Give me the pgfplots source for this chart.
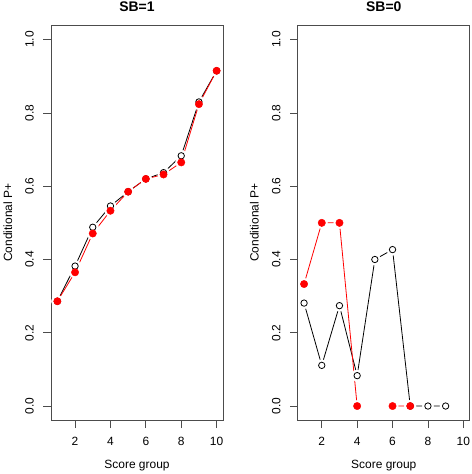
\documentclass[border=0pt]{standalone}
\usepackage{fontspec}
\setmainfont{Liberation Sans}
\usepackage{pgfplots}
\pgfplotsset{compat=1.18}
\definecolor{rred}{RGB}{255,0,0}
\pgfplotsset{
  rstyle/.style={
    scale only axis, width=172bp, height=395.7bp,
    xmin=0.64, xmax=10.36, ymin=-0.04, ymax=1.04,
    xtick={2,4,6,8,10}, xticklabels={2,4,6,8,10},
    ytick={0,0.2,0.4,0.6,0.8,1.0}, yticklabels={0.0,0.2,0.4,0.6,0.8,1.0},
    tick pos=left, tick align=outside, major tick length=7.5bp,
    axis line style={draw=black!70, line width=0.8bp},
    tick style={draw=black!70, line width=0.8bp},
    ticklabel style={font=\fontsize{12}{14}\selectfont},
    yticklabel style={rotate=90, anchor=south, inner sep=0pt, yshift=9.5bp},
    xticklabel style={anchor=north, inner sep=0pt, yshift=-8.5bp},
    clip=false,
  },
  bline/.style={black, line width=0.8bp, no marks},
  rline/.style={rred, line width=0.8bp, no marks},
  halo/.style={only marks, mark=*, mark size=5.7bp, mark options={draw=white, fill=white}},
  bmark/.style={only marks, mark=o, mark size=3.2bp, mark options={draw=black, line width=0.8bp}},
  rmark/.style={only marks, mark=*, mark size=3.7bp, mark options={draw=rred, fill=rred}},
}
\pgfplotstableread{
x y
1 0.286
2 0.382
3 0.488
4 0.546
5 0.585
6 0.620
7 0.637
8 0.683
9 0.830
10 0.915
}\leftblack
\pgfplotstableread{
x y
1 0.286
2 0.365
3 0.471
4 0.533
5 0.585
6 0.620
7 0.632
8 0.665
9 0.824
10 0.915
}\leftred
\pgfplotstableread{
x y
1 0.281
2 0.111
3 0.274
4 0.083
5 0.400
6 0.427
7 0.000
8 0.000
9 0.000
}\rightblack
\pgfplotstableread{
x y
1 0.333
2 0.500
3 0.500
4 0.000
5 nan
6 0.000
7 0.000
}\rightred
\begin{document}
\begin{tikzpicture}
\useasboundingbox (0bp,0bp) rectangle (472bp,474bp);
\begin{axis}[rstyle, at={(51bp,53.3bp)}, anchor=south west]
\addplot[bline] table {\leftblack};
\addplot[halo] table {\leftblack};
\addplot[rline] table {\leftred};
\addplot[halo] table {\leftred};
\addplot[bmark] table {\leftblack};
\addplot[rmark] table {\leftred};
\end{axis}
\begin{axis}[rstyle, at={(297.7bp,53.3bp)}, anchor=south west, unbounded coords=jump]
\addplot[bline] table {\rightblack};
\addplot[halo] table {\rightblack};
\addplot[rline] table {\rightred};
\addplot[halo] table {\rightred};
\addplot[bmark] table {\rightblack};
\addplot[rmark] table {\rightred};
\end{axis}
\node[font=\fontsize{14}{16}\selectfont\bfseries] at (137bp,466.8bp) {SB=1};
\node[font=\fontsize{14}{16}\selectfont\bfseries] at (383.8bp,466.8bp) {SB=0};
\node[font=\fontsize{12}{14}\selectfont, anchor=base] at (137bp,6bp) {Score group};
\node[font=\fontsize{12}{14}\selectfont, anchor=base] at (383.8bp,6bp) {Score group};
\node[font=\fontsize{12}{14}\selectfont, rotate=90, anchor=base] at (12bp,251.2bp) {Conditional P+};
\node[font=\fontsize{12}{14}\selectfont, rotate=90, anchor=base] at (258.7bp,251.2bp) {Conditional P+};
\end{tikzpicture}
\end{document}
